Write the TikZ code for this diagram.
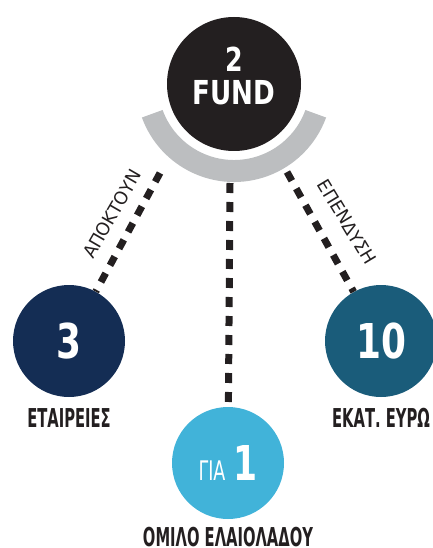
\documentclass[tikz,border=0pt]{standalone}
\usepackage{fontspec}
\setmainfont{DejaVu Sans Condensed}
\usepackage{graphicx}
\usetikzlibrary{positioning}
\definecolor{fundBlack}{HTML}{231F20}
\definecolor{ringGray}{HTML}{BCBEC0}
\definecolor{navyBlue}{HTML}{142D54}
\definecolor{tealBlue}{HTML}{1A5C7A}
\definecolor{skyBlue}{HTML}{41B3D9}
\newcommand{\narrow}[2]{\scalebox{#1}[1]{#2}}

\begin{document}
\begin{tikzpicture}[x=1pt, y=1pt,
    ball/.style={circle, minimum size=112pt, inner sep=0pt, text=white,
      font=\bfseries\fontsize{48}{48}\selectfont},
    dots/.style={line width=7pt, fundBlack, dash pattern=on 10pt off 9pt},
    lbl/.style={inner sep=0pt, text=fundBlack, font=\bfseries\fontsize{26}{26}\selectfont},
    thinlbl/.style={inner sep=0pt, text=fundBlack, font=\fontsize{18}{18}\selectfont}]
    \useasboundingbox (0,0) rectangle (432,-548);

    % circles
    \node[ball, fill=navyBlue] (c3) at (69,-341) {\narrow{0.83}{3}};
    \node[ball, fill=tealBlue] (c10) at (381,-341) {\narrow{0.83}{10}};
    \node[ball, fill=skyBlue] (c1) at (228,-463)
      {\narrow{0.72}{\mdseries\fontsize{27}{27}\selectfont ΓΙΑ}\,\narrow{0.8}{1}};

    % dotted links from the ring
    \coordinate (lt) at (160,-173);
    \coordinate (mt) at (230,-183);
    \coordinate (rt) at (287,-172);
    \draw[dots] (lt) -- (c3);
    \draw[dots] (mt) -- (c1);
    \draw[dots] (rt) -- (c10);
    \node[thinlbl, rotate=60] (buy) at (112,-214) {\narrow{1.08}{ΑΠΟΚΤΟΥΝ}};
    \node[thinlbl, rotate=-59] (invest) at (347,-222) {\narrow{1.08}{ΕΠΕΝΔΥΣΗ}};

    % top circle with gray ring
    \fill[ringGray] (234,-84) ++(200:98) arc (200:340:98) -- ++(160:22) arc (340:200:76) -- cycle;
    \node[circle, minimum size=134pt, inner sep=0pt, fill=fundBlack] (fund) at (234,-84) {};
    \node[text=white, align=center, font=\bfseries\fontsize{33}{33}\selectfont]
      (fundtxt) at ([yshift=8pt]fund.center) {\narrow{0.85}{2}\\\narrow{0.88}{FUND}};

    % labels
    \node[lbl, below=11pt of c3] (firms) {\narrow{0.63}{ΕΤΑΙΡΕΙΕΣ}};
    \node[lbl, below=11pt of c10] (euro) {\narrow{0.63}{ΕΚΑΤ. ΕΥΡΩ}};
    \node[lbl, below=8pt of c1] (group) {\narrow{0.63}{ΟΜΙΛΟ ΕΛΑΙΟΛΑΔΟΥ}};
\end{tikzpicture}
\end{document}
